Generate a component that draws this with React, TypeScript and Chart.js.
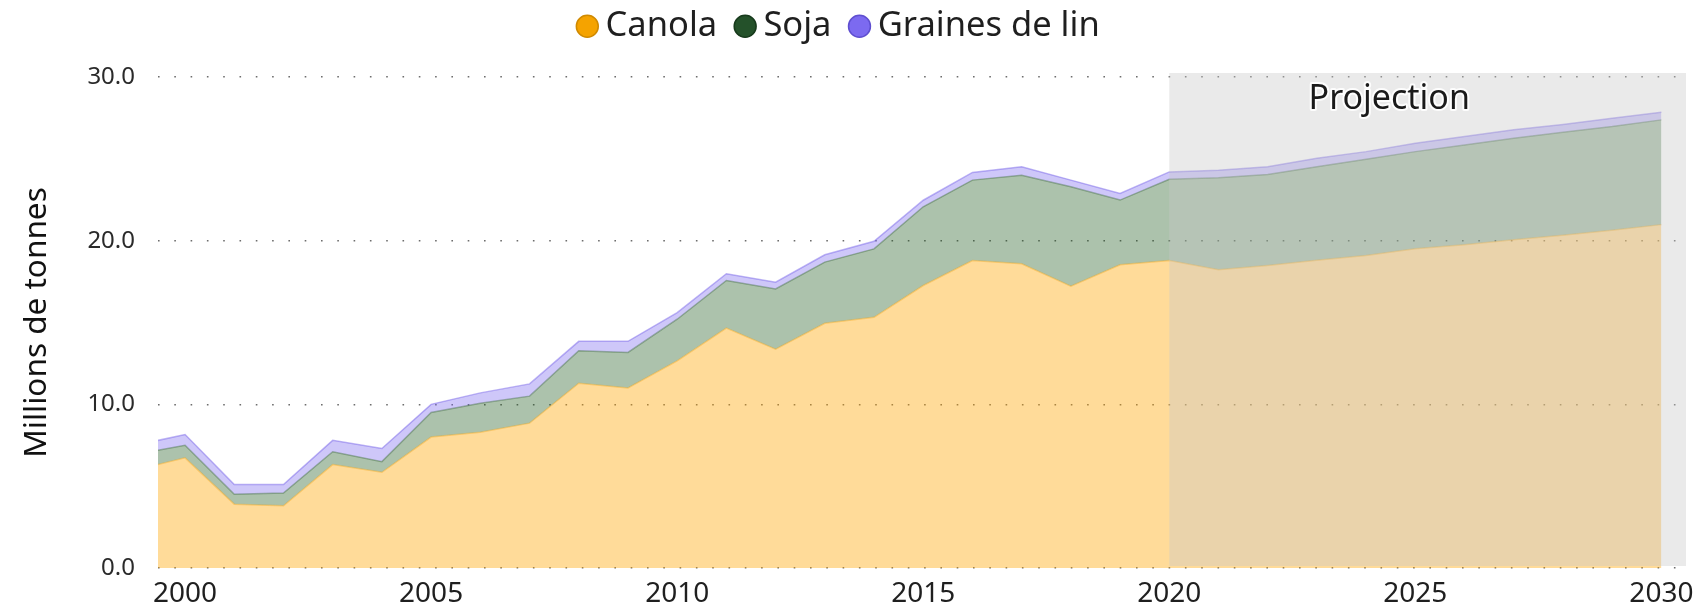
import React, { useEffect, useRef } from "react";
import { Chart, registerables } from "chart.js";

Chart.register(...registerables);

// ---- Data (millions de tonnes) ----
const YEARS = [
  1999, 2000, 2001, 2002, 2003, 2004, 2005, 2006, 2007, 2008, 2009, 2010,
  2011, 2012, 2013, 2014, 2015, 2016, 2017, 2018, 2019, 2020, 2021, 2022,
  2023, 2024, 2025, 2026, 2027, 2028, 2029, 2030,
];
const CANOLA = [
  6.0, 6.73, 3.9, 3.8, 6.32, 5.85, 8.0, 8.3, 8.85, 11.29, 11.0, 12.66,
  14.66, 13.37, 14.95, 15.32, 17.26, 18.79, 18.59, 17.22, 18.53, 18.79, 18.22, 18.49,
  18.8, 19.1, 19.5, 19.75, 20.06, 20.33, 20.63, 20.98,
];
const SOJA = [
  0.95, 0.77, 0.6, 0.78, 0.78, 0.65, 1.5, 1.76, 1.65, 1.98, 2.17, 2.54,
  2.91, 3.68, 3.74, 4.18, 4.81, 4.91, 5.41, 6.08, 3.95, 4.96, 5.63, 5.56,
  5.72, 5.87, 5.94, 6.1, 6.2, 6.3, 6.34, 6.4,
];
const LIN = [
  0.55, 0.66, 0.6, 0.52, 0.7, 0.8, 0.5, 0.64, 0.75, 0.58, 0.68, 0.4,
  0.41, 0.41, 0.45, 0.46, 0.4, 0.47, 0.52, 0.4, 0.4, 0.45, 0.45, 0.47,
  0.51, 0.47, 0.51, 0.51, 0.51, 0.47, 0.51, 0.47,
];
const SERIES_LABELS = ["Canola", "Soja", "Graines de lin"];
const X_TICKS = [2000, 2005, 2010, 2015, 2020, 2025, 2030];
const Y_TICKS = [0, 10, 20, 30];
const X_MIN = 1999.45;
const X_MAX = 2030.5;
const PROJECTION_START = 2020;
const PROJECTION_LABEL = "Projection";
const PROJECTION_LABEL_AT = 2024.47;
const Y_TITLE = "Millions de tonnes";

// ---- Styles ----
const FONT = '"Noto Sans", "Open Sans", sans-serif';
const FILLS = ["rgba(255,165,0,0.40)", "rgba(30,90,30,0.37)", "rgba(123,104,238,0.37)"];
const BORDERS = ["rgba(245,160,0,0.35)", "rgba(30,80,30,0.35)", "rgba(110,90,230,0.45)"];
const LEGEND_FILLS = ["#F5A300", "#24512A", "#7C6AF0"];
const LEGEND_STROKES = ["#D08A00", "#173A1C", "#5F4FD0"];
const LEGEND_HEIGHT = 95;

const legendSizePlugin = {
  id: "legendSize",
  beforeLayout(chart: any) {
    const lg = chart.legend;
    if (lg && !lg.__patched) {
      const orig = lg.fit;
      lg.fit = function () {
        orig.call(this);
        this.height = LEGEND_HEIGHT;
      };
      lg.__patched = true;
    }
  },
};

const projectionPlugin = {
  id: "projection",
  afterDatasetsDraw(chart: any) {
    const { ctx, chartArea, scales } = chart;
    const x = scales.x;
    const left = x.getPixelForValue(PROJECTION_START);
    ctx.save();
    ctx.fillStyle = "rgba(200,200,200,0.38)";
    ctx.fillRect(left, chartArea.top - 4, chartArea.right - left, chartArea.bottom - chartArea.top + 2);
    ctx.font = `34px ${FONT}`;
    ctx.textAlign = "center";
    ctx.textBaseline = "middle";
    const tx = x.getPixelForValue(PROJECTION_LABEL_AT);
    const ty = chartArea.top + 22;
    ctx.lineWidth = 4;
    ctx.strokeStyle = "rgba(255,255,255,0.9)";
    ctx.lineJoin = "round";
    ctx.strokeText(PROJECTION_LABEL, tx, ty);
    ctx.fillStyle = "#1a1a1a";
    ctx.fillText(PROJECTION_LABEL, tx, ty);
    ctx.restore();
  },
};

export default function App() {
  const canvasRef = useRef<HTMLCanvasElement | null>(null);

  useEffect(() => {
    const canvas = canvasRef.current;
    if (!canvas) return;
    const series = [CANOLA, SOJA, LIN];
    const datasets = series.map((vals, i) => ({
      label: SERIES_LABELS[i],
      data: YEARS.map((yr, j) => ({ x: yr, y: vals[j] })),
      backgroundColor: FILLS[i],
      borderColor: BORDERS[i],
      borderWidth: 1.5,
      pointRadius: 0,
      pointHoverRadius: 0,
      tension: 0,
      fill: i === 0 ? "origin" : "-1",
    }));
    const defaultGen = (Chart as any).defaults.plugins.legend.labels.generateLabels;

    const chart = new Chart(canvas, {
      type: "line",
      data: { datasets },
      plugins: [legendSizePlugin, projectionPlugin],
      options: {
        responsive: false,
        animation: false,
        layout: { padding: { left: 0, right: 22, top: -18, bottom: 0 } },
        plugins: {
          tooltip: { enabled: false },
          legend: {
            display: true,
            position: "top",
            labels: {
              usePointStyle: true,
              pointStyle: "circle",
              boxWidth: 2,
              boxHeight: 15.5,
              padding: 27,
              color: "#1f1f1f",
              font: { family: FONT, size: 34.5 },
              generateLabels: (c: any) =>
                defaultGen(c).map((l: any, i: number) => ({
                  ...l,
                  fillStyle: LEGEND_FILLS[i],
                  strokeStyle: LEGEND_STROKES[i],
                  lineWidth: 1.5,
                })),
            },
          },
        },
        scales: {
          x: {
            type: "linear",
            min: X_MIN,
            max: X_MAX,
            afterBuildTicks: (s: any) => {
              s.ticks = X_TICKS.map((v) => ({ value: v }));
            },
            afterFit: (s: any) => {
              s.height = 42;
            },
            grid: { display: false, drawTicks: false },
            border: { display: false },
            ticks: {
              autoSkip: false,
              maxRotation: 0,
              padding: 9,
              color: "#1f1f1f",
              font: { family: FONT, size: 28 },
              callback: (v: any) => String(v),
            },
          },
          y: {
            type: "linear",
            stacked: true,
            min: 0,
            max: 30,
            afterBuildTicks: (s: any) => {
              s.ticks = Y_TICKS.map((v) => ({ value: v }));
            },
            afterFit: (s: any) => {
              s.width = 158;
            },
            title: {
              display: true,
              text: Y_TITLE,
              color: "#111",
              font: { family: FONT, size: 31.5 },
              padding: { top: 18, bottom: 0 },
            },
            grid: {
              drawTicks: false,
              color: "rgba(60,60,60,0.75)",
              lineWidth: 1.6,
            },
            border: { display: false, dash: [1.6, 14.7] },
            ticks: {
              padding: 23,
              color: "#2a2a2a",
              font: { family: FONT, size: 24 },
              callback: (v: any) => Number(v).toFixed(1),
            },
          },
        },
      },
    } as any);

    return () => chart.destroy();
  }, []);

  return (
    <div style={{ position: "absolute", left: 0, top: 0, width: 1708, height: 610, background: "#fff" }}>
      <canvas ref={canvasRef} width={1708} height={610} style={{ width: 1708, height: 610, display: "block" }} />
    </div>
  );
}
